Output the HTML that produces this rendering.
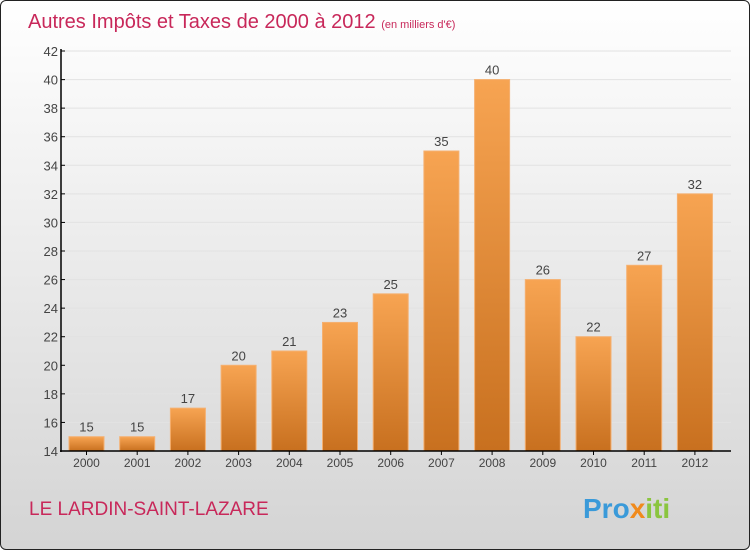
<!DOCTYPE html>
<html><head><meta charset="utf-8"><style>
body{margin:0;}
#wrap{position:relative;width:750px;height:550px;box-sizing:border-box;border:1px solid #222;border-radius:6px;overflow:hidden;background:linear-gradient(#ffffff,#d4d4d4);font-family:"Liberation Sans",sans-serif;}
</style></head><body>
<div id="wrap">
<svg width="750" height="550" style="position:absolute;left:0;top:0" id="svg">
<defs><linearGradient id="bg" x1="0" y1="0" x2="0" y2="1"><stop offset="0" stop-color="#f7a452"/><stop offset="1" stop-color="#c8701f"/></linearGradient></defs>
<text x="27" y="27" font-size="20" fill="#c8285a">Autres Impôts et Taxes de 2000 à 2012 <tspan font-size="11">(en milliers d'€)</tspan></text>
<text x="28" y="514" font-size="19" fill="#c8285a">LE LARDIN-SAINT-LAZARE</text>
<text x="582" y="517" font-size="28" font-weight="bold"><tspan fill="#3a9ad9">Pro</tspan><tspan fill="#f08a1c">x</tspan><tspan fill="#8bc53f">iti</tspan></text>
<g id="g"></g>
</svg>
</div>
<script>
const years=["2000","2001","2002","2003","2004","2005","2006","2007","2008","2009","2010","2011","2012"];
const values=[15,15,17,20,21,23,25,35,40,26,22,27,32];
const yTicks=[14,16,18,20,22,24,26,28,30,32,34,36,38,40,42];
const NS="http://www.w3.org/2000/svg";
const g=document.getElementById('g');
const y=v=>450-(v-14)*400/28;
const x=i=>85.5+i*50.7;
function mk(t,a){const e=document.createElementNS(NS,t);for(const k in a)e.setAttribute(k,a[k]);g.appendChild(e);return e;}
yTicks.forEach(t=>{
 const l=mk('line',{x1:60,x2:730,y1:y(t),y2:y(t),stroke:'#e2e2e2','stroke-width':1});
 
 
 const tk=mk('line',{x1:60,x2:64,y1:y(t),y2:y(t),stroke:'#000'});
 
 
 const tx=mk('text',{x:57,y:y(t)+5,'font-size':13,'text-anchor':'end',fill:'#444'});
 tx.textContent=t;
 
 
});
values.forEach((v,i)=>{
 const r=mk('rect',{x:x(i)-17.5,y:y(v),width:35,height:450-y(v),fill:'url(#bg)',stroke:'#f5b070','stroke-width':1});
 
 
 const vt=mk('text',{x:x(i),y:y(v)-5,'font-size':13,'text-anchor':'middle',fill:'#444'});
 vt.textContent=v;
 
 
 const tk=mk('line',{x1:x(i),x2:x(i),y1:450,y2:454,stroke:'#000'});
 
 
 const xt=mk('text',{x:x(i),y:466,'font-size':12,'text-anchor':'middle',fill:'#444'});
 xt.textContent=years[i];
 
 
});
const ya=mk('line',{x1:60,x2:60,y1:48,y2:451,stroke:'#000','stroke-width':1.5});


const xa=mk('line',{x1:59,x2:730,y1:450,y2:450,stroke:'#000','stroke-width':1.5});


</script>
</body></html>
